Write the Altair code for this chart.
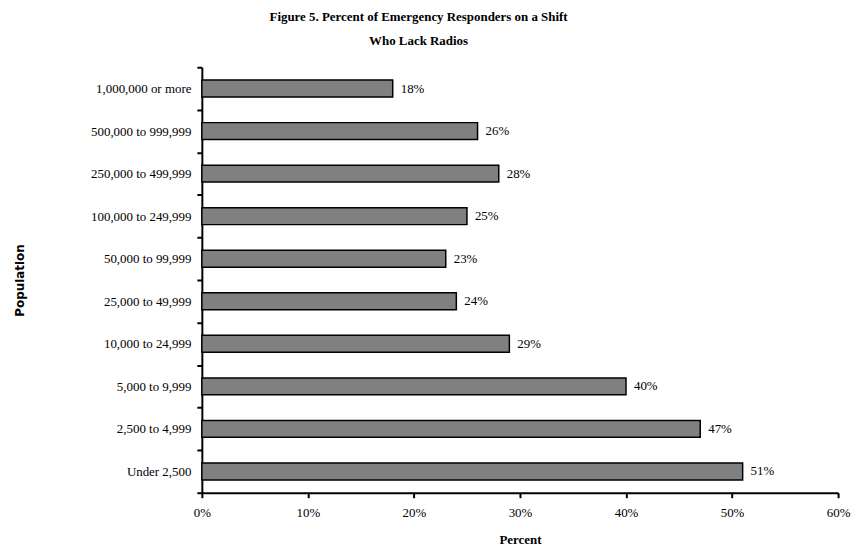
import altair as alt
import pandas as pd

populations = [
    "1,000,000 or more", "500,000 to 999,999", "250,000 to 499,999",
    "100,000 to 249,999", "50,000 to 99,999", "25,000 to 49,999",
    "10,000 to 24,999", "5,000 to 9,999", "2,500 to 4,999", "Under 2,500",
]
percents = [18, 26, 28, 25, 23, 24, 29, 40, 47, 51]
x_ticks = [0, 10, 20, 30, 40, 50, 60]
title_lines = ["Figure 5.  Percent of Emergency Responders on a Shift", "Who Lack Radios"]

df = pd.DataFrame({"population": populations, "percent": percents})
df["label"] = df["percent"].astype(str) + "%"

SERIF = "Liberation Serif"

base = alt.Chart(df).encode(
    y=alt.Y(
        "population:N",
        sort=populations,
        scale=alt.Scale(paddingInner=0, paddingOuter=0),
        axis=alt.Axis(
            title="Population",
            tickBand="extent",
            tickSize=5,
            tickWidth=2,
            tickColor="black",
            domainColor="black",
            domainWidth=2,
            labelFont=SERIF,
            labelFontSize=13,
            labelColor="black",
            labelPadding=6,
            titleFont="DejaVu Sans",
            titleFontWeight=900,
            titleFontSize=12,
            titleColor="black",
            titleAngle=-90,
            titleX=-183,
            titleY=214,
            titleAlign="center",
            titleBaseline="middle",
        ),
    ),
    x=alt.X(
        "percent:Q",
        scale=alt.Scale(domain=[0, 60], nice=False),
        axis=alt.Axis(
            title="Percent",
            values=x_ticks,
            labelExpr="datum.value + '%'",
            grid=False,
            tickSize=5,
            tickWidth=2,
            tickColor="black",
            domainColor="black",
            domainWidth=2,
            labelFont=SERIF,
            labelFontSize=13,
            labelColor="black",
            labelPadding=9,
            labelFlush=False,
            titleFont=SERIF,
            titleFontWeight="bold",
            titleFontSize=13,
            titleColor="black",
            titlePadding=14,
        ),
    ),
)

bars = base.mark_bar(size=17, color="#808080", stroke="black", strokeWidth=1.5)
labels = base.mark_text(align="left", baseline="middle", dx=8, font=SERIF, fontSize=13, color="black").encode(
    text="label:N"
)

chart = (
    alt.layer(bars, labels)
    .properties(
        width=640,
        height=428,
        autosize=alt.AutoSizeParams(type="none"),
        padding={"left": 195, "top": 58, "right": 14, "bottom": 56},
        background="white",
        title=alt.Title(
            title_lines,
            font=SERIF,
            fontSize=13,
            fontWeight="bold",
            color="black",
            lineHeight=25,
            anchor="middle",
            dx=-102,
            offset=13,
        ),
    )
    .configure_view(stroke=None)
)

chart.save("out.html", embed_options={"renderer": "svg", "actions": False})
